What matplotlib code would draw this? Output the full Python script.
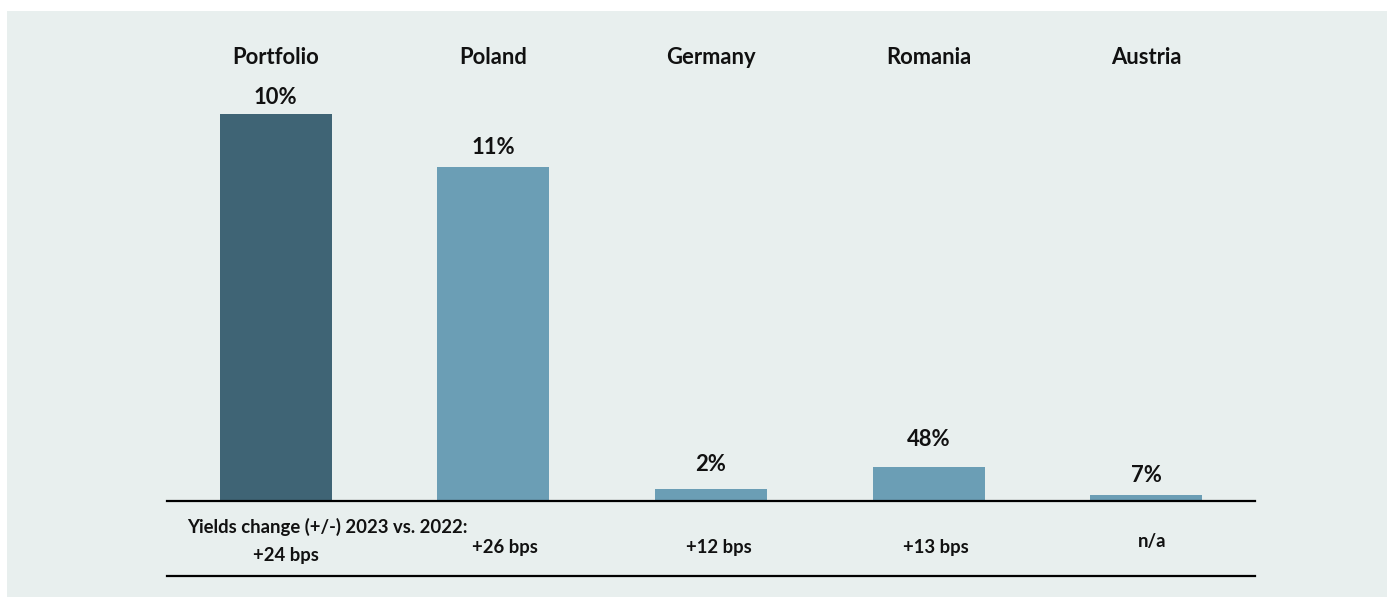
import matplotlib
matplotlib.use("Agg")
import matplotlib.pyplot as plt
from matplotlib.patches import Rectangle
from matplotlib.lines import Line2D
import matplotlib.transforms as mtransforms

plt.rcParams['font.family'] = ['Lato', 'DejaVu Sans']

categories = ["Portfolio", "Poland", "Germany", "Romania", "Austria"]
bar_values = [100.0, 86.3, 3.1, 8.8, 1.6]
value_labels = ["10%", "11%", "2%", "48%", "7%"]
yield_labels = ["+24 bps", "+26 bps", "+12 bps", "+13 bps", "n/a"]
yield_title = "Yields change (+/-) 2023 vs. 2022:"

dark_blue = "#3f6475"
light_blue = "#6b9eb5"
panel_bg = "#e8efee"
bar_colors = [dark_blue] + [light_blue] * (len(categories) - 1)

W, H = 1387, 597
fig = plt.figure(figsize=(W / 100, H / 100), dpi=100)
fig.patch.set_facecolor("white")
fig.patches.append(Rectangle((7 / W, 0), 1 - 7 / W, 1 - 11 / H, transform=fig.transFigure,
                             facecolor=panel_bg, edgecolor="none", zorder=-10))

def fx(px):
    return px / W

def fy(py):
    return 1 - py / H

left, right = 167, 1255
base, top = 501, 40
ax = fig.add_axes([fx(left), fy(base), fx(right) - fx(left), fy(top) - fy(base)])
ax.set_facecolor("none")
ax.set_xlim(-0.5, len(categories) - 0.5)
ax.set_ylim(0, 100 * (base - top) / (base - 114))

xs = list(range(len(categories)))
ax.bar(xs, bar_values, width=0.515, color=bar_colors, zorder=2)

for s in ["top", "right", "left"]:
    ax.spines[s].set_visible(False)
ax.spines["bottom"].set_color("black")
ax.spines["bottom"].set_linewidth(1.6)
ax.set_xticks([])
ax.set_yticks([])

txt = dict(fontweight="bold", color="#111111")

# Category headers across the top
header_tr = mtransforms.blended_transform_factory(ax.transData, fig.transFigure)
for x, name in zip(xs, categories):
    ax.text(x, fy(58), name, transform=header_tr, ha="center", va="center",
            fontsize=15.8, clip_on=False, **txt)

# Value labels above each bar
offsets = [17, 20, 25, 27, 19]
for x, v, lab, off in zip(xs, bar_values, value_labels, offsets):
    ax.annotate(lab, (x, v), xytext=(0, off * 0.72), textcoords="offset points",
                ha="center", va="center", fontsize=15.8, **txt)

# Yield change row below the axis
fig.text(fx(187), fy(527), yield_title, ha="left", va="center", fontsize=13.3, **txt)
yield_pos = [(286, 555), (505, 547), (719, 547), (936, 547), (1152, 542)]
for (px, py), lab in zip(yield_pos, yield_labels):
    fig.text(fx(px), fy(py), lab, ha="center", va="center", fontsize=13.3, **txt)

fig.add_artist(Line2D([fx(left), fx(right)], [fy(576), fy(576)], transform=fig.transFigure,
                      color="black", linewidth=1.6))

fig.savefig("out.png", dpi=100, facecolor=fig.get_facecolor())
